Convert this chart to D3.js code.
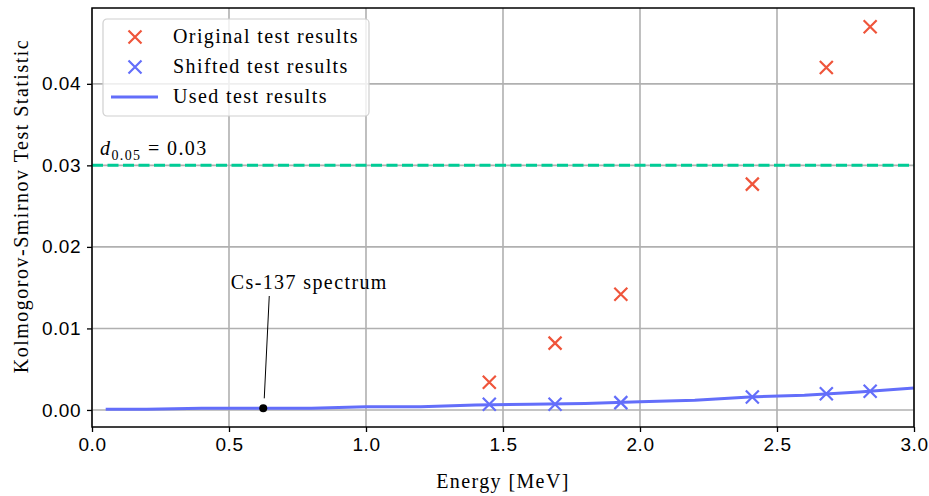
<!DOCTYPE html>
<html>
<head>
<meta charset="utf-8">
<script src="https://cdn.jsdelivr.net/npm/d3@7"></script>
<style>
  body { margin: 0; background: #fff; }
  svg { display: block; font-family: "Liberation Serif", "DejaVu Serif", serif; }
  .lbl { font-size: 20px; letter-spacing: 1.4px; }
</style>
</head>
<body>
<div id="chart"></div>
<script>
(function () {
  // Data
  const shiftEnergies = [1.45, 1.69, 1.93, 2.41, 2.68, 2.84];
  const originalValues = [0.0034, 0.0082, 0.0142, 0.0277, 0.0420, 0.0470];
  const shiftedValues = [0.0007, 0.0007, 0.0009, 0.0016, 0.0020, 0.0023];
  const usedEnergies = [0.05, 0.2, 0.4, 0.6, 0.8, 1.0, 1.2, 1.4, 1.6, 1.8, 2.0, 2.2, 2.4, 2.6, 2.8, 3.0];
  const usedValues = [0.0001, 0.0001, 0.0002, 0.0002, 0.0002, 0.0004, 0.0004, 0.0006, 0.0007, 0.0008, 0.0010, 0.0012, 0.0016, 0.0018, 0.0022, 0.0027];
  const csPoint = [0.625, 0.0002];
  const threshold = 0.03;
  const xTicks = [0, 0.5, 1.0, 1.5, 2.0, 2.5, 3.0];
  const yTicks = [0, 0.01, 0.02, 0.03, 0.04];

  const RED = "#EF553B";
  const BLUE = "#636EFA";
  const TEAL = "#00CC96";

  const width = 929, height = 496;
  const margin = { top: 8, right: 15, bottom: 69, left: 92 };
  const innerW = width - margin.left - margin.right;
  const innerH = height - margin.top - margin.bottom;

  const svg = d3.select("#chart").append("svg")
    .attr("width", width)
    .attr("height", height);

  const g = svg.append("g")
    .attr("transform", `translate(${margin.left},${margin.top})`);

  const x = d3.scaleLinear().domain([0, 3.0]).range([0, innerW]);
  const y = d3.scaleLinear().domain([-0.00209, 0.0493]).range([innerH, 0]);

  // Grid
  g.append("g")
    .selectAll("line")
    .data(xTicks)
    .join("line")
    .attr("x1", d => x(d)).attr("x2", d => x(d))
    .attr("y1", 0).attr("y2", innerH)
    .attr("stroke", "#b0b0b0").attr("stroke-width", 1.6);
  g.append("g")
    .selectAll("line")
    .data(yTicks)
    .join("line")
    .attr("x1", 0).attr("x2", innerW)
    .attr("y1", d => y(d)).attr("y2", d => y(d))
    .attr("stroke", "#b0b0b0").attr("stroke-width", 1.6);

  // Threshold line
  g.append("line")
    .attr("x1", 0).attr("x2", innerW)
    .attr("y1", y(threshold)).attr("y2", y(threshold))
    .attr("stroke", TEAL).attr("stroke-width", 3)
    .attr("stroke-dasharray", "11,4.5");

  const thrLabel = g.append("text")
    .attr("class", "lbl")
    .attr("x", 8).attr("y", y(threshold) - 10)
    .style("fill", "#000");
  thrLabel.append("tspan").style("font-style", "italic").text("d");
  thrLabel.append("tspan").attr("dy", 5).style("font-size", "14px").text("0.05");
  thrLabel.append("tspan").attr("dy", -5).text(" = 0.03");

  // Used line
  const line = d3.line().x(d => x(d[0])).y(d => y(d[1]));
  g.append("path")
    .datum(usedEnergies.map((e, i) => [e, usedValues[i]]))
    .attr("d", line)
    .attr("fill", "none")
    .attr("stroke", BLUE).attr("stroke-width", 3)
    .attr("stroke-linejoin", "round");

  function cross(sel, color) {
    const s = 6.5;
    sel.append("path")
      .attr("d", `M${-s},${-s}L${s},${s}M${-s},${s}L${s},${-s}`)
      .attr("stroke", color).attr("stroke-width", 2.2).attr("fill", "none");
  }

  g.append("g").selectAll("g")
    .data(shiftEnergies.map((e, i) => [e, originalValues[i]]))
    .join("g")
    .attr("transform", d => `translate(${x(d[0])},${y(d[1])})`)
    .each(function () { cross(d3.select(this), RED); });

  g.append("g").selectAll("g")
    .data(shiftEnergies.map((e, i) => [e, shiftedValues[i]]))
    .join("g")
    .attr("transform", d => `translate(${x(d[0])},${y(d[1])})`)
    .each(function () { cross(d3.select(this), BLUE); });

  // Cs-137 annotation
  g.append("line")
    .attr("x1", x(csPoint[0]) + 1).attr("y1", y(csPoint[1]) - 10)
    .attr("x2", x(csPoint[0]) + 6).attr("y2", 296 - margin.top)
    .attr("stroke", "#000").attr("stroke-width", 1);
  g.append("circle")
    .attr("cx", x(csPoint[0])).attr("cy", y(csPoint[1]))
    .attr("r", 4).attr("fill", "#000");
  g.append("text")
    .attr("class", "lbl")
    .attr("x", x(csPoint[0]) + 46).attr("y", 289 - margin.top)
    .attr("text-anchor", "middle")
    .text("Cs-137 spectrum");

  // Axes
  const xAxis = g.append("g")
    .attr("transform", `translate(0,${innerH})`)
    .call(d3.axisBottom(x).tickValues(xTicks).tickFormat(d3.format(".1f")).tickSize(5).tickPadding(6));
  const yAxis = g.append("g")
    .call(d3.axisLeft(y).tickValues(yTicks).tickFormat(d3.format(".2f")).tickSize(5).tickPadding(6));
  [xAxis, yAxis].forEach(a => {
    a.selectAll(".domain").remove();
    a.selectAll(".tick line").attr("stroke", "#000").attr("stroke-width", 1.3);
    a.selectAll(".tick text").style("font-size", "19px").style("font-family", "inherit")
      .style("letter-spacing", "0.5px").attr("fill", "#000");
  });

  // Frame
  g.append("rect")
    .attr("x", 0).attr("y", 0).attr("width", innerW).attr("height", innerH)
    .attr("fill", "none").attr("stroke", "#000").attr("stroke-width", 1.5);

  // Axis labels
  svg.append("text")
    .attr("class", "lbl")
    .attr("x", margin.left + innerW / 2).attr("y", 488)
    .attr("text-anchor", "middle")
    .text("Energy [MeV]");
  svg.append("text")
    .attr("class", "lbl")
    .attr("transform", `translate(28,206) rotate(-90)`)
    .attr("text-anchor", "middle")
    .style("letter-spacing", "1.5px")
    .text("Kolmogorov-Smirnov Test Statistic");

  // Legend
  const legend = g.append("g").attr("transform", "translate(11,11)");
  legend.append("rect")
    .attr("width", 266).attr("height", 97).attr("rx", 4)
    .attr("fill", "#fff").attr("fill-opacity", 0.8)
    .attr("stroke", "#d0d0d0").attr("stroke-width", 1.2);
  const items = [
    { label: "Original test results", type: "cross", color: RED },
    { label: "Shifted test results", type: "cross", color: BLUE },
    { label: "Used test results", type: "line", color: BLUE }
  ];
  items.forEach((it, i) => {
    const row = legend.append("g").attr("transform", `translate(0,${18 + i * 30})`);
    if (it.type === "cross") {
      const m = row.append("g").attr("transform", "translate(32,0)");
      cross(m, it.color);
    } else {
      row.append("line").attr("x1", 8).attr("x2", 55).attr("y1", 0).attr("y2", 0)
        .attr("stroke", it.color).attr("stroke-width", 3);
    }
    row.append("text").attr("class", "lbl").attr("x", 70).attr("y", 6)
      .text(it.label);
  });
})();
</script>
</body>
</html>
